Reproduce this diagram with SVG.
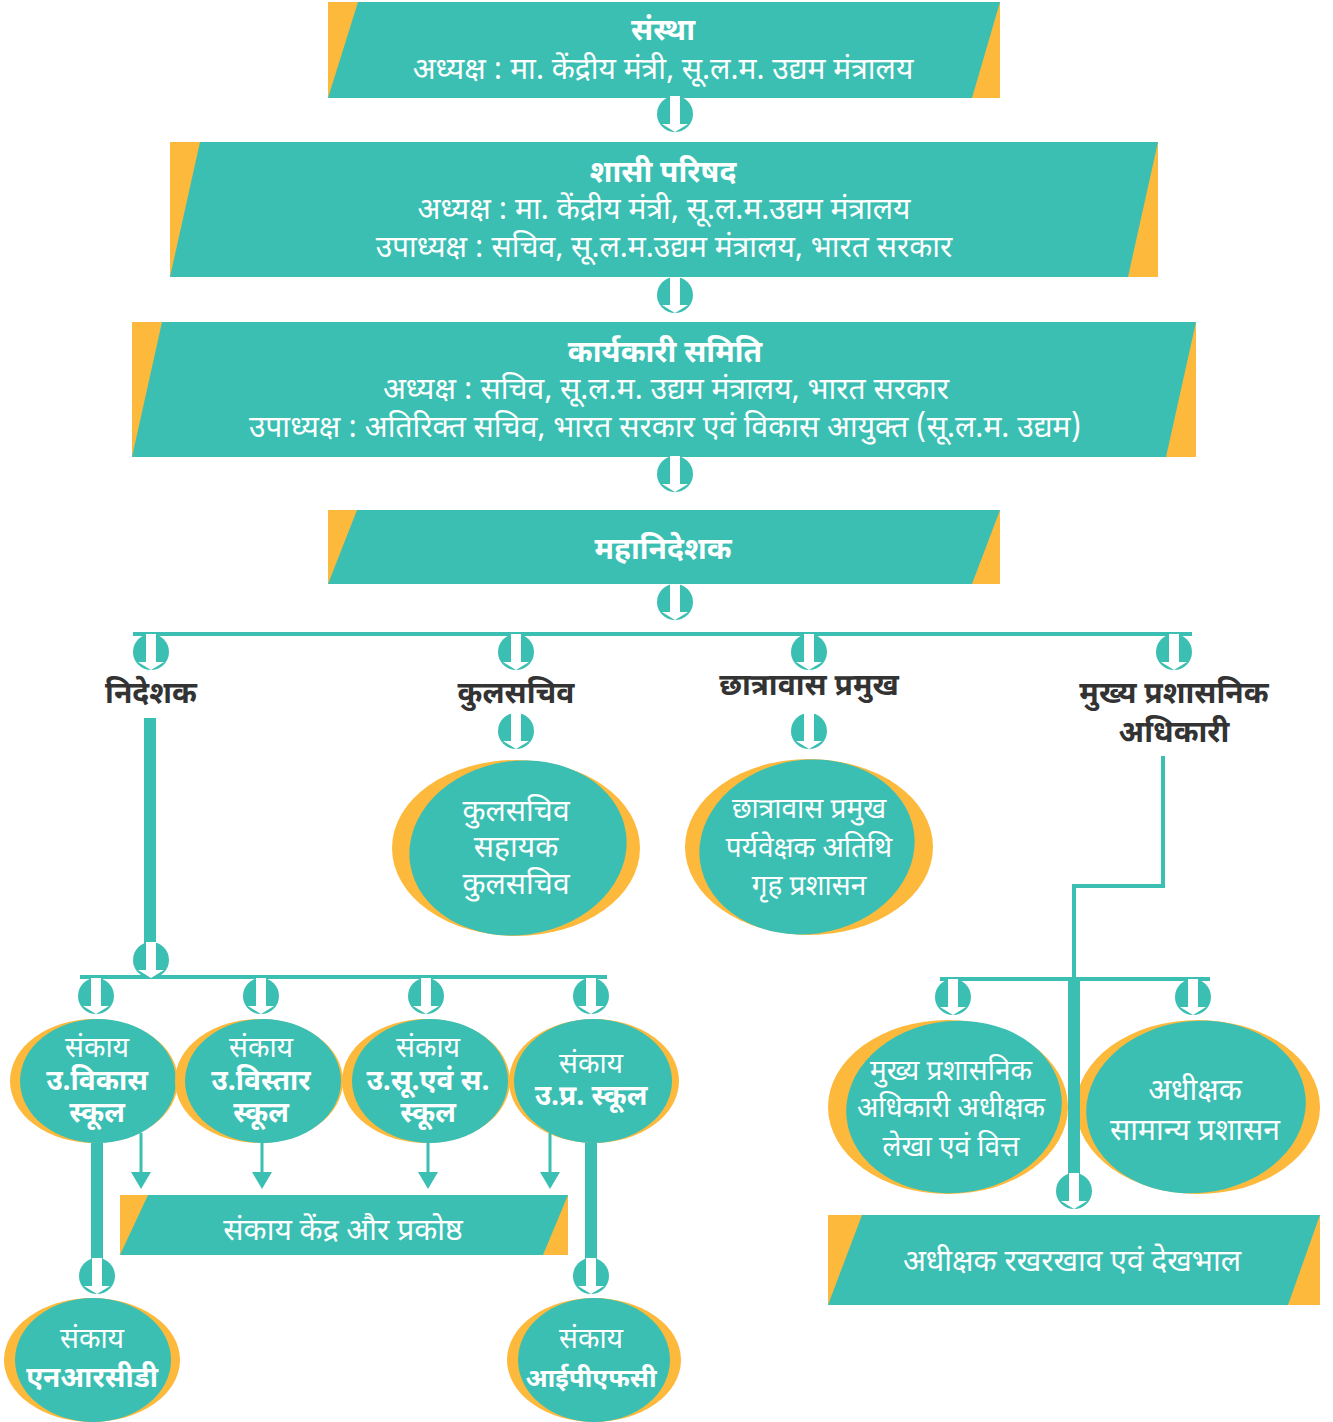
<svg xmlns="http://www.w3.org/2000/svg" xmlns:xlink="http://www.w3.org/1999/xlink" width="1333" height="1422" viewBox="0 0 1333 1422">
<style>
.t{fill:#3BBFB3}.o{fill:#FDB93C}
text{font-family:"Noto Sans Devanagari","Noto Sans",sans-serif;text-anchor:middle;font-size:28px}
.w{fill:#fff}.k{fill:#333}.b{font-weight:bold}.l{font-size:30px}.s{font-size:26px}
.ln{fill:none;stroke:#3BBFB3;stroke-width:4}
.th{fill:none;stroke:#3BBFB3;stroke-width:3}
</style>
<defs>
<g id="arr"><ellipse rx="18" ry="18" fill="#3BBFB3"/><path d="M-5,-18h10v28h8l-13,8l-13,-8h8z" fill="#fff"/></g>
</defs>
<rect width="1333" height="1422" fill="#fff"/>
<g id="sanstha"><rect class="o" x="328" y="2" width="672" height="96"/><polygon class="t" points="358,2 1000,2 972,98 328,98"/>
<text class="w b l" x="663" y="40">संस्था</text><text class="w l" x="663" y="79">अध्यक्ष : मा. केंद्रीय मंत्री, सू.ल.म. उद्यम मंत्रालय</text></g>
<g id="shasi"><rect class="o" x="170" y="142" width="988" height="135"/><polygon class="t" points="200,142 1158,142 1128,277 170,277"/>
<text class="w b l" x="663" y="182">शासी परिषद</text><text class="w l" x="664" y="219">अध्यक्ष : मा. केंद्रीय मंत्री, सू.ल.म.उद्यम मंत्रालय</text><text class="w l" x="664" y="257">उपाध्यक्ष : सचिव, सू.ल.म.उद्यम मंत्रालय, भारत सरकार</text></g>
<g id="karyakari"><rect class="o" x="132" y="322" width="1064" height="135"/><polygon class="t" points="162,322 1196,322 1166,457 132,457"/>
<text class="w b l" x="665" y="362">कार्यकारी समिति</text><text class="w l" x="666" y="399">अध्यक्ष : सचिव, सू.ल.म. उद्यम मंत्रालय, भारत सरकार</text><text class="w l" x="665" y="437">उपाध्यक्ष : अतिरिक्त सचिव, भारत सरकार एवं विकास आयुक्त (सू.ल.म. उद्यम)</text></g>
<g id="mahanideshak"><rect class="o" x="328" y="510" width="672" height="74"/><polygon class="t" points="357,510 1000,510 972,584 328,584"/>
<text class="w b l" x="663" y="559">महानिदेशक</text></g>
<g id="nideshak"><text class="k b l" x="151" y="703">निदेशक</text></g>
<g id="kulsachiv"><text class="k b l" x="516" y="703">कुलसचिव</text></g>
<g id="chhatravas"><text class="k b l" x="809" y="695">छात्रावास प्रमुख</text></g>
<g id="mukhya"><text class="k b l" x="1174" y="703">मुख्य प्रशासनिक</text><text class="k b l" x="1174" y="742">अधिकारी</text></g>
<g id="sahayak"><ellipse class="o" cx="516" cy="848" rx="124" ry="88"/><ellipse class="t" cx="518" cy="848" rx="109" ry="87" transform="rotate(-8 518 848)"/>
<text class="w l" x="516" y="821">कुलसचिव</text><text class="w l" x="516" y="857">सहायक</text><text class="w l" x="516" y="894">कुलसचिव</text></g>
<g id="paryavekshak"><ellipse class="o" cx="809" cy="847" rx="124" ry="88"/><ellipse class="t" cx="807" cy="847" rx="108" ry="87" transform="rotate(-8 807 847)"/>
<text class="w" x="809" y="818">छात्रावास प्रमुख</text><text class="w" x="809" y="857">पर्यवेक्षक अतिथि</text><text class="w" x="809" y="895">गृह प्रशासन</text></g>
<g id="vikas"><ellipse class="o" cx="94" cy="1081" rx="84" ry="62"/><ellipse class="t" cx="98" cy="1081" rx="78" ry="62"/>
<text class="w" x="97" y="1057">संकाय</text><text class="w b" x="97" y="1090">उ.विकास</text><text class="w b" x="97" y="1122">स्कूल</text></g>
<g id="vistar"><ellipse class="o" cx="259" cy="1081" rx="84" ry="62"/><ellipse class="t" cx="263" cy="1081" rx="78" ry="62"/>
<text class="w" x="261" y="1057">संकाय</text><text class="w b" x="261" y="1090">उ.विस्तार</text><text class="w b" x="261" y="1122">स्कूल</text></g>
<g id="suevs"><ellipse class="o" cx="426" cy="1081" rx="84" ry="62"/><ellipse class="t" cx="430" cy="1081" rx="78" ry="62"/>
<text class="w" x="428" y="1057">संकाय</text><text class="w b" x="428" y="1090">उ.सू.एवं स.</text><text class="w b" x="428" y="1122">स्कूल</text></g>
<g id="upra"><ellipse class="o" cx="594" cy="1081" rx="85" ry="62"/><ellipse class="t" cx="593" cy="1081" rx="79" ry="62"/>
<text class="w" x="591" y="1073">संकाय</text><text class="w b" x="591" y="1105">उ.प्र. स्कूल</text></g>
<g id="kendra"><rect class="o" x="120" y="1195" width="448" height="60"/><polygon class="t" points="148,1195 568,1195 543,1255 120,1255"/>
<text class="w l" x="343" y="1240">संकाय केंद्र और प्रकोष्ठ</text></g>
<g id="nrcd"><ellipse class="o" cx="92" cy="1360" rx="88" ry="62"/><ellipse class="t" cx="93" cy="1360" rx="78" ry="62"/>
<text class="w" x="92" y="1348">संकाय</text><text class="w b" x="92" y="1387">एनआरसीडी</text></g>
<g id="ipfc"><ellipse class="o" cx="594" cy="1360" rx="87" ry="62"/><ellipse class="t" cx="594" cy="1360" rx="76" ry="62"/>
<text class="w" x="591" y="1348">संकाय</text><text class="w b s" x="591" y="1387">आईपीएफसी</text></g>
<g id="lekha"><ellipse class="o" cx="948" cy="1107" rx="120" ry="87"/><ellipse class="t" cx="954" cy="1107" rx="108" ry="86" transform="rotate(-6 954 1107)"/>
<text class="w" x="951" y="1080">मुख्य प्रशासनिक</text><text class="w" x="951" y="1117">अधिकारी अधीक्षक</text><text class="w" x="951" y="1156">लेखा एवं वित्त</text></g>
<g id="samanya"><ellipse class="o" cx="1198" cy="1107" rx="122" ry="87"/><ellipse class="t" cx="1196" cy="1107" rx="110" ry="86" transform="rotate(-6 1196 1107)"/>
<text class="w l" x="1195" y="1100">अधीक्षक</text><text class="w l" x="1195" y="1140">सामान्य प्रशासन</text></g>
<g id="dekhbhal"><rect class="o" x="828" y="1215" width="492" height="90"/><polygon class="t" points="862,1215 1320,1215 1288,1305 828,1305"/>
<text class="w l" x="1072" y="1271">अधीक्षक रखरखाव एवं देखभाल</text></g>
<g id="connectors">
<rect class="t" x="133" y="632" width="1059" height="4"/>
<rect class="t" x="144" y="718" width="12" height="230"/>
<rect class="t" x="80" y="975" width="527" height="4"/>
<path class="ln" d="M1163,756V886H1074V979"/>
<rect class="t" x="940" y="977" width="270" height="4"/>
<rect class="t" x="1068" y="979" width="12" height="198"/>
<rect class="t" x="91" y="1143" width="12" height="120"/>
<rect class="t" x="585" y="1143" width="12" height="120"/>
<path class="th" d="M141,1133V1174M262,1133V1174M428,1133V1174M550,1133V1174"/>
<path class="t" d="M131,1172h20l-10,17zM252,1172h20l-10,17zM418,1172h20l-10,17zM540,1172h20l-10,17z"/>
<use xlink:href="#arr" x="675" y="114"/>
<use xlink:href="#arr" x="675" y="295"/>
<use xlink:href="#arr" x="675" y="474"/>
<use xlink:href="#arr" x="675" y="602"/>
<use xlink:href="#arr" x="151" y="652"/>
<use xlink:href="#arr" x="516" y="652"/>
<use xlink:href="#arr" x="809" y="652"/>
<use xlink:href="#arr" x="1174" y="652"/>
<use xlink:href="#arr" x="516" y="731"/>
<use xlink:href="#arr" x="809" y="731"/>
<use xlink:href="#arr" x="151" y="960"/>
<use xlink:href="#arr" x="96" y="996"/>
<use xlink:href="#arr" x="261" y="996"/>
<use xlink:href="#arr" x="426" y="996"/>
<use xlink:href="#arr" x="591" y="996"/>
<use xlink:href="#arr" x="953" y="997"/>
<use xlink:href="#arr" x="1193" y="997"/>
<use xlink:href="#arr" x="1074" y="1191"/>
<use xlink:href="#arr" x="97" y="1276"/>
<use xlink:href="#arr" x="591" y="1276"/>
</g>
</svg>
